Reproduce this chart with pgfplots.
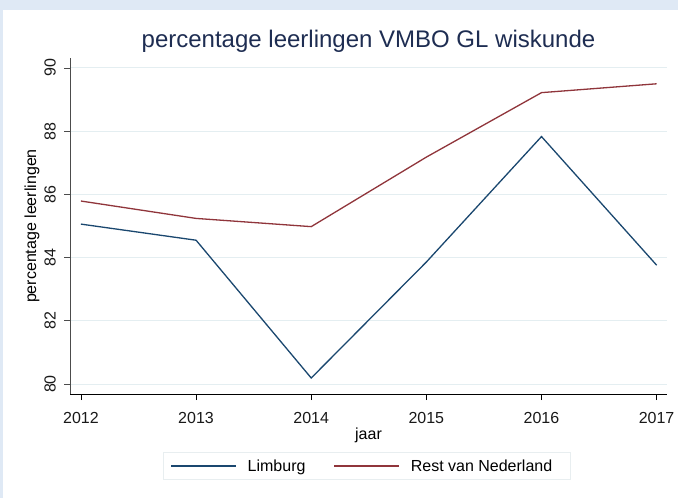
\documentclass[border=0pt]{standalone}
\usepackage{pgfplots}
\pgfplotsset{compat=1.18}
\usepackage{fontspec}
\setmainfont{Liberation Sans}
\definecolor{stnavy}{HTML}{1A476F}
\definecolor{stmaroon}{HTML}{90353B}
\definecolor{titlenavy}{HTML}{1E2D52}
\definecolor{gridblue}{HTML}{E4EEF1}
\definecolor{framebg}{HTML}{DFE9F5}
\definecolor{legendline}{HTML}{E8EEF0}
\newcommand{\lblfont}{\fontsize{16bp}{19bp}\selectfont}
\begin{document}
\begin{tikzpicture}
  % frame: picture is 678x498, axis corner sits at (70,394) in picture pixels
  \fill[framebg] (-70bp,-104bp) rectangle (608bp,394bp);
  \fill[white] (-67bp,-104bp) rectangle (608bp,384bp);
  \begin{axis}[
    at={(0,0)}, anchor=south west,
    scale only axis,
    width=597bp, height=336bp,
    xmin=2011.905, xmax=2017.09,
    ymin=79.684, ymax=90.316,
    xtick={2012,...,2017},
    ytick={80,82,...,90},
    /pgf/number format/1000 sep={},
    /pgf/number format/assume math mode=true,
    axis x line*=bottom, axis y line*=left,
    x axis line style={-, black, line width=1bp},
    y axis line style={-, black!70, line width=1bp},
    tick align=outside,
    major tick length=6bp,
    x tick style={black, line width=0.8bp},
    y tick style={black!70, line width=0.8bp},
    ymajorgrids,
    major grid style={gridblue, line width=1bp},
    ticklabel style={font=\lblfont, text=black!90},
    yticklabel style={rotate=90, anchor=south, inner sep=0pt, yshift=8bp},
    xticklabel style={inner sep=0pt, yshift=-12bp},
    title={percentage leerlingen VMBO GL wiskunde},
    title style={at={(axis description cs:0.5,1)}, anchor=base, yshift=5bp,
                 font=\fontsize{24bp}{28bp}\selectfont, text=titlenavy},
    xlabel={jaar},
    xlabel style={at={(axis description cs:0.5,-0.122)}, anchor=center, font=\lblfont},
    ylabel={percentage leerlingen},
    ylabel style={at={(axis description cs:-0.0637,0.5)}, anchor=center, font=\lblfont},
    legend columns=2,
    legend image code/.code={\draw[#1] (0bp,0bp) -- (65bp,0bp);},
    legend style={at={(0.1558,-0.2143)}, anchor=west,
                  draw=legendline, line width=0.8bp, fill=white,
                  inner xsep=7bp, inner ysep=5bp,
                  font=\lblfont,
                  nodes={inner xsep=0bp, inner ysep=2bp},
                  /tikz/every odd column/.append style={column sep=11bp},
                  /tikz/every even column/.append style={column sep=28bp}},
    legend cell align=left,
  ]
    \addplot[stnavy, line width=1.3bp] coordinates {
      (2012,85.06) (2013,84.55) (2014,80.19) (2015,83.86) (2016,87.83) (2017,83.76)};
    \addplot[stmaroon, line width=1.3bp] coordinates {
      (2012,85.79) (2013,85.24) (2014,84.98) (2015,87.18) (2016,89.22) (2017,89.50)};
    \legend{Limburg, Rest van Nederland\hspace*{11bp}}
  \end{axis}
\end{tikzpicture}
\end{document}
